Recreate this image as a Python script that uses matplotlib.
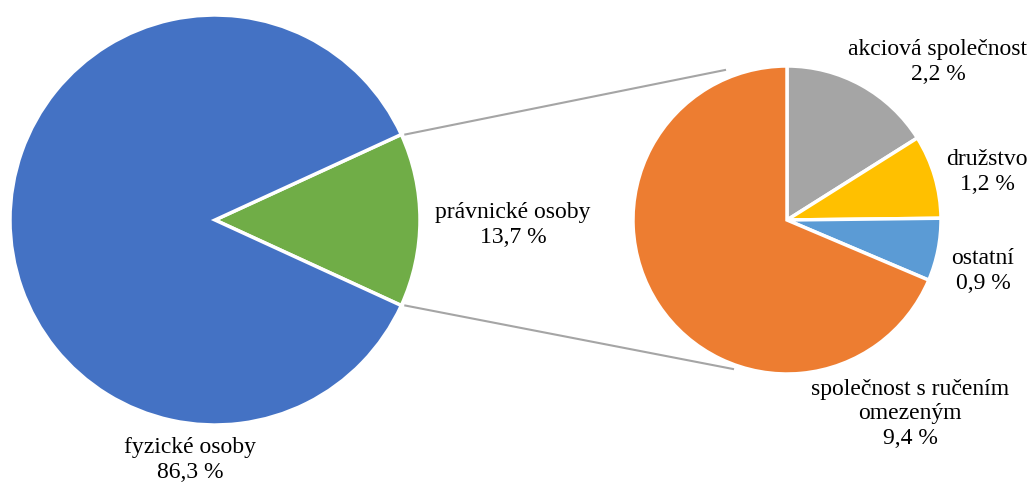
import matplotlib
matplotlib.use("Agg")
import matplotlib.pyplot as plt
import numpy as np

plt.rcParams['font.family'] = ['Liberation Serif', 'DejaVu Serif']

main_labels = ["fyzické osoby", "právnické osoby"]
main_values = [86.3, 13.7]
main_colors = ["#4472C4", "#70AD47"]

sub_labels = ["akciová společnost", "družstvo", "ostatní", "společnost s ručením\nomezeným"]
sub_values = [2.2, 1.2, 0.9, 9.4]
sub_colors = ["#A5A5A5", "#FFC000", "#5B9BD5", "#ED7D31"]

W, H = 1035, 484
fig = plt.figure(figsize=(W / 100, H / 100), dpi=100)
ax = fig.add_axes([0, 0, 1, 1])

def fmt(v):
    return f"{v:.1f}".replace(".", ",") + " %"

# Main pie: small slice centered on the right (angle 0)
c1 = (215, H - 220)
r1 = 205
half = main_values[1] / sum(main_values) * 360 / 2
ax.pie(main_values[::-1], colors=main_colors[::-1], startangle=-half,
       center=c1, radius=r1, counterclock=True,
       wedgeprops=dict(edgecolor="white", linewidth=2.5))

# Secondary pie
c2 = (787, H - 220)
r2 = 154
ax.pie(sub_values, colors=sub_colors, startangle=90, counterclock=False,
       center=c2, radius=r2,
       wedgeprops=dict(edgecolor="white", linewidth=2.5))

a = np.deg2rad(half)
p_top = (c1[0] + r1 * np.cos(a), c1[1] + r1 * np.sin(a))
p_bot = (c1[0] + r1 * np.cos(a), c1[1] - r1 * np.sin(a))
ax.plot([p_top[0] + 4, 725], [p_top[1], H - 70], color="#A5A5A5", lw=1.5, zorder=0)
ax.plot([p_bot[0] + 4, 733], [p_bot[1], H - 369], color="#A5A5A5", lw=1.5, zorder=0)

fs = 17
kw = dict(ha="center", va="center", fontsize=fs, color="black", linespacing=1.22)
ax.text(190, H - 460, f"{main_labels[0]}\n{fmt(main_values[0])}", **kw)
ax.text(513, H - 225, f"{main_labels[1]}\n{fmt(main_values[1])}", **kw)
ax.text(938, H - 62, f"{sub_labels[0]}\n{fmt(sub_values[0])}", **kw)
ax.text(987, H - 172, f"{sub_labels[1]}\n{fmt(sub_values[1])}", **kw)
ax.text(983, H - 271, f"{sub_labels[2]}\n{fmt(sub_values[2])}", **kw)
ax.text(910, H - 414, f"{sub_labels[3]}\n{fmt(sub_values[3])}", **kw)

ax.set_xlim(0, W)
ax.set_ylim(0, H)
ax.set_aspect("equal")
ax.axis("off")
fig.savefig("out.png", dpi=100, facecolor="white")
